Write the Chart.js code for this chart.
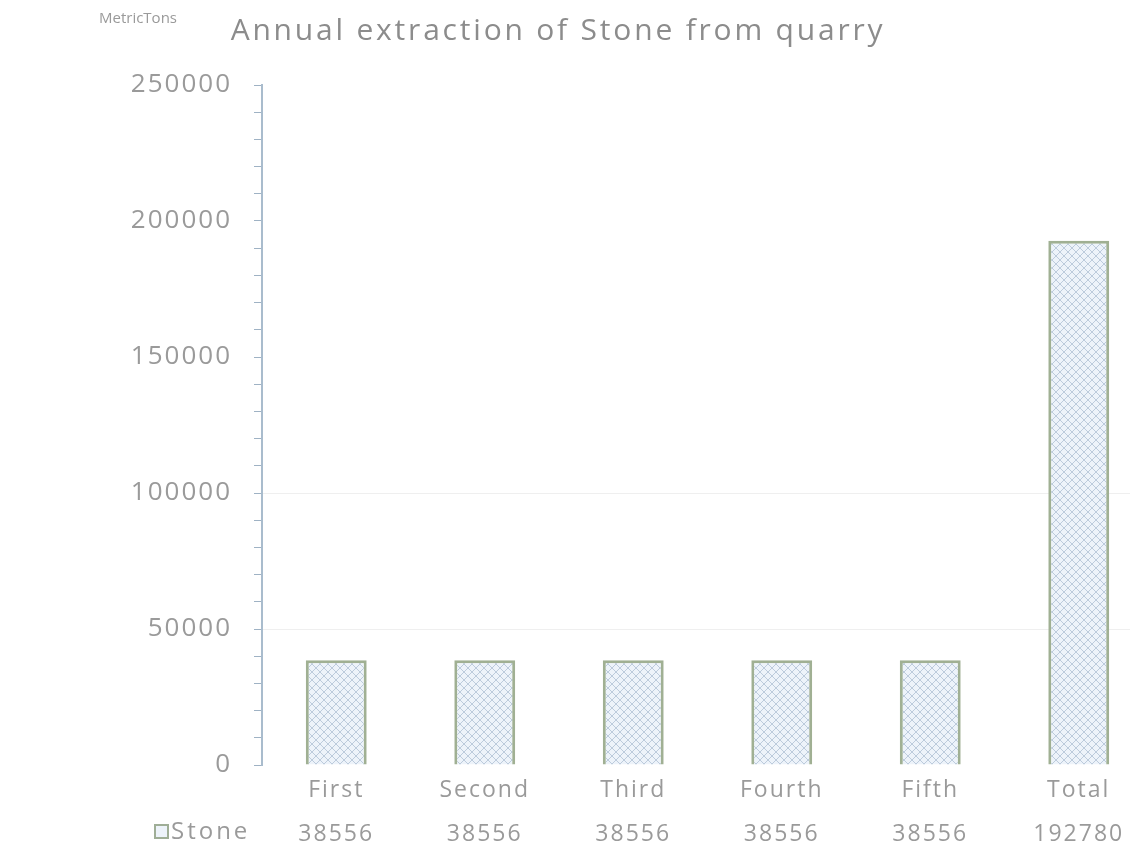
<!DOCTYPE html>
<html>
<head>
<meta charset="utf-8">
<script src="https://cdn.jsdelivr.net/npm/chart.js@4/dist/chart.umd.min.js"></script>
<style>
  html, body { margin: 0; padding: 0; background: #ffffff; overflow: hidden; }
  #wrap { width: 1130px; height: 850px; overflow: hidden; position: relative; }
  canvas { display: block; }
</style>
</head>
<body>
<div id="wrap"><canvas id="chart" width="1153" height="850"></canvas></div>
<script>
// Quarry output per period, plus the running total
const categories = ['First', 'Second', 'Third', 'Fourth', 'Fifth', 'Total'];
const stoneValues = [38556, 38556, 38556, 38556, 38556, 192780];
const seriesName = 'Stone';
const chartTitle = 'Annual extraction of Stone from quarry';
const unitLabel = 'MetricTons';
const yTickLabels = [0, 50000, 100000, 150000, 200000, 250000];

const textGray = '#9a9a9a';
const fontFamily = '"Open Sans", "DejaVu Sans", sans-serif';

// Light blue cross-hatch fill for the bars
function hatchPattern() {
  const c = document.createElement('canvas');
  c.width = 8; c.height = 8;
  const g = c.getContext('2d');
  g.fillStyle = '#edf3fa';
  g.fillRect(0, 0, 8, 8);
  g.strokeStyle = '#bccbdc';
  g.lineWidth = 1;
  g.beginPath();
  g.moveTo(0, 0); g.lineTo(8, 8);
  g.moveTo(8, 0); g.lineTo(0, 8);
  g.stroke();
  return g.createPattern(c, 'repeat');
}

// Title, unit caption and the legend entry of the value row
const decorations = {
  id: 'decorations',
  beforeDraw(chart) {
    chart.ctx.letterSpacing = '2px';
  },
  afterDraw(chart) {
    const ctx = chart.ctx;
    ctx.save();
    ctx.letterSpacing = '2.8px';
    ctx.fillStyle = '#8c8c8c';
    ctx.font = '30px ' + fontFamily;
    ctx.textAlign = 'center';
    ctx.textBaseline = 'middle';
    ctx.fillText(chartTitle, 558, 31);

    ctx.fillStyle = textGray;
    ctx.font = '15px ' + fontFamily;
    ctx.textAlign = 'left';
    ctx.letterSpacing = '0px';
    ctx.fillText(unitLabel, 99, 19);

    // legend key for the value row
    const rowY = 832;
    ctx.fillStyle = '#edf3fa';
    ctx.fillRect(155, rowY - 7, 13, 13);
    ctx.strokeStyle = '#9fae97';
    ctx.lineWidth = 2;
    ctx.strokeRect(155, rowY - 7, 13, 13);
    ctx.fillStyle = textGray;
    ctx.font = '24px ' + fontFamily;
    ctx.letterSpacing = '3px';
    ctx.textBaseline = 'middle';
    ctx.fillText(seriesName, 171, rowY);
    ctx.restore();
  }
};

new Chart(document.getElementById('chart'), {
  type: 'bar',
  data: {
    labels: categories,
    datasets: [{
      label: seriesName,
      data: stoneValues,
      backgroundColor: hatchPattern(),
      borderColor: '#a0b093',
      borderWidth: 3,
      borderSkipped: 'bottom',
      barPercentage: 0.41,
      categoryPercentage: 1.0
    }]
  },
  options: {
    responsive: false,
    animation: false,
    layout: { padding: { top: 85, left: 0, right: 0, bottom: 0 } },
    plugins: {
      legend: { display: false },
      title: { display: false },
      tooltip: { enabled: false }
    },
    scales: {
      x: {
        grid: { display: false, drawTicks: false },
        border: { display: false },
        afterFit(scale) { scale.height = 85; },
        ticks: {
          padding: 3,
          color: textGray,
          font: { family: fontFamily, size: 23, lineHeight: 1.913 },
          maxRotation: 0,
          autoSkip: false,
          callback(value, index) {
            return [categories[index], String(stoneValues[index])];
          }
        }
      },
      y: {
        min: yTickLabels[0],
        max: yTickLabels[yTickLabels.length - 1],
        afterFit(scale) { scale.width = 262; },
        border: { display: true, color: '#a9bccd', width: 2 },
        grid: {
          drawOnChartArea: true,
          color(ctx) {
            const v = ctx.tick && ctx.tick.value;
            return (v === 50000 || v === 100000) ? '#efefef' : 'rgba(0,0,0,0)';
          },
          tickColor: '#9fb2c4',
          tickLength: 8,
          tickWidth: 1
        },
        ticks: {
          stepSize: 10000,
          autoSkip: false,
          padding: 22,
          color: textGray,
          font: { family: fontFamily, size: 26 },
          callback(value) {
            return yTickLabels.includes(value) ? String(value) : '';
          }
        }
      }
    }
  },
  plugins: [decorations]
});
</script>
</body>
</html>
